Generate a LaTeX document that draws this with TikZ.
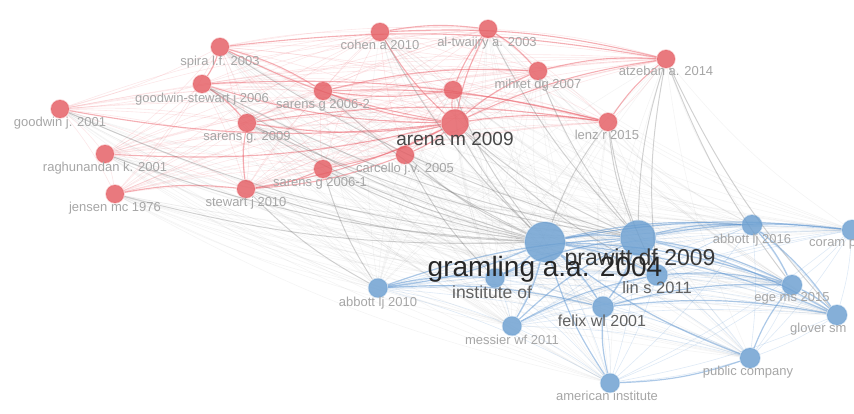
\documentclass[tikz,border=0pt]{standalone}
\usepackage{fontspec}
\setmainfont{Liberation Sans}
\pgfdeclarelayer{edges}
\pgfsetlayers{edges,main}
\definecolor{nRed}{RGB}{228,92,98}
\definecolor{nBlue}{RGB}{106,158,208}
\definecolor{eRed}{RGB}{234,96,106}
\definecolor{eBlue}{RGB}{92,148,208}
\definecolor{eGray}{RGB}{115,115,115}
\definecolor{labG}{RGB}{166,166,166}
\tikzset{
  rn/.style={circle, inner sep=0pt, minimum size=#1, fill=nRed, fill opacity=0.82, draw=nRed, draw opacity=0.3, line width=1.5pt},
  bn/.style={circle, inner sep=0pt, minimum size=#1, fill=nBlue, fill opacity=0.82, draw=nBlue, draw opacity=0.3, line width=1.5pt},
  lab/.style 2 args={font=\fontsize{#1}{#1}\selectfont, text=#2, inner sep=0pt, text height={0.72*#1}, text depth={0.2*#1}},
  sl/.style={lab={13}{labG}},
  redL/.style={draw=eRed, opacity=0.15, line width=0.6pt},
  redS/.style={draw=eRed, opacity=0.5, line width=1.1pt},
  grayL/.style={draw=eGray, opacity=0.08, line width=0.6pt},
  grayS/.style={draw=eGray, opacity=0.28, line width=1pt},
  blueL/.style={draw=eBlue, opacity=0.2, line width=0.6pt},
  blueS/.style={draw=eBlue, opacity=0.5, line width=1.2pt},
}
\begin{document}
\begin{tikzpicture}[x=1pt, y=-1pt]
\useasboundingbox (0,0) rectangle (854,414);
\clip (0,0) rectangle (854,414);
% ---------- red cluster ----------
\node[rn=18pt] (sp)  at (220,47)  {};
\node[rn=18pt] (gs)  at (202,84)  {};
\node[rn=18pt] (gw)  at (60,109)  {};
\node[rn=18pt] (sg9) at (247,123) {};
\node[rn=18pt] (rk)  at (105,154) {};
\node[rn=18pt] (jm)  at (115,194) {};
\node[rn=18pt] (sw)  at (246,189) {};
\node[rn=18pt] (s61) at (323,169) {};
\node[rn=18pt] (cj)  at (405,155) {};
\node[rn=18pt] (s62) at (323,91)  {};
\node[rn=18pt] (ca)  at (380,32)  {};
\node[rn=18pt] (at)  at (488,29)  {};
\node[rn=18pt] (md)  at (538,71)  {};
\node[rn=18pt] (ux)  at (453,90)  {};
\node[rn=27pt] (ar)  at (455,123) {};
\node[rn=18pt] (az)  at (666,59)  {};
\node[rn=18pt] (lz)  at (608,122) {};
% ---------- blue cluster ----------
\node[bn=40pt] (gr)   at (545,242) {};
\node[bn=35pt] (pr)   at (638,238) {};
\node[bn=19pt] (io)   at (495,278) {};
\node[bn=19pt] (ab10) at (378,288) {};
\node[bn=19pt] (mw)   at (512,326) {};
\node[bn=21pt] (fw)   at (603,307) {};
\node[bn=21pt] (ls)   at (657,275) {};
\node[bn=20pt] (ab16) at (752,225) {};
\node[bn=20pt] (cp)   at (852,230) {};
\node[bn=20pt] (em)   at (792,285) {};
\node[bn=20pt] (gl)   at (837,315) {};
\node[bn=20pt] (pc)   at (750,358) {};
\node[bn=19pt] (ai)   at (610,383) {};
% ---------- edges ----------
\begin{pgfonlayer}{edges}
\clip (0,0) rectangle (854,414);
\foreach \a [count=\i] in {sp,gs,gw,sg9,rk,jm,sw,s61,cj,s62,ca,at,md,ux,ar,az,lz}{
  \foreach \b [count=\j] in {sp,gs,gw,sg9,rk,jm,sw,s61,cj,s62,ca,at,md,ux,ar,az,lz}{
    \ifnum\j>\i \draw[redL] (\a) to[bend left=6] (\b); \fi
  }
}
\foreach \a in {sp,gs,gw,sg9,rk,jm,sw,s61,cj,s62,ca,at,md,ux,ar,az,lz}{
  \foreach \b in {gr,pr,io,ab10,mw,fw,ls,ab16,cp,em,gl,pc,ai}{
    \draw[grayL] (\a) to[bend right=8] (\b);
  }
}
\foreach \a [count=\i] in {gr,pr,io,ab10,mw,fw,ls,ab16,cp,em,gl,pc,ai}{
  \foreach \b [count=\j] in {gr,pr,io,ab10,mw,fw,ls,ab16,cp,em,gl,pc,ai}{
    \ifnum\j>\i \draw[blueL] (\a) to[bend left=6] (\b); \fi
  }
}
\foreach \a/\b in {ar/ca,ar/at,ar/md,ar/lz,ar/ux,ar/sg9,ar/gs,ar/s62,ar/sw,ar/cj,ar/sp,ar/az,ar/gw,ar/rk,ar/s61,
  sp/az,gs/lz,s62/md,ca/at,ca/az,at/md,md/az,sg9/lz,ux/at,ux/s62,cj/sw,s61/sw,sw/sg9,gs/sg9,sp/gs,jm/sw,lz/az,s62/lz,sp/s62}{
  \draw[redS] (\a) to[bend left=8] (\b);
}
\foreach \a/\b in {ar/gr,ar/pr,sg9/gr,gs/gr,sw/gr,cj/gr,s61/gr,lz/gr,lz/pr,az/pr,az/em,az/ls,rk/gr,jm/gr,gw/gr,sp/pr,
  ca/gr,s62/gr,ux/gr,md/pr,ar/ls,sg9/pr,gs/pr,cj/io,s61/ab10,sw/ab10,lz/ls,az/gl,at/pr}{
  \draw[grayS] (\a) to[bend right=8] (\b);
}
\foreach \a/\b in {gr/pr,gr/ab10,gr/io,gr/mw,gr/fw,gr/ls,gr/ab16,gr/cp,gr/em,gr/gl,pr/ab16,pr/cp,pr/em,pr/ls,pr/fw,pr/gl,
  ab10/io,ab10/fw,mw/pr,fw/em,fw/gl,ls/em,ab16/em,ab16/gl,pc/em,pc/ai,pc/gr,ai/gr,ai/fw,em/gl,io/pr,mw/ls,ab10/pr}{
  \draw[blueS] (\a) to[bend left=8] (\b);
}
\end{pgfonlayer}
% ---------- labels ----------
\node[sl] (sp-l)  at (220,62)  {spira l.f. 2003};
\node[sl] (gs-l)  at (202,99)  {goodwin-stewart j 2006};
\node[sl] (gw-l)  at (60,123)  {goodwin j. 2001};
\node[sl] (sg9-l) at (247,137) {sarens g. 2009};
\node[sl] (rk-l)  at (105,168) {raghunandan k. 2001};
\node[sl] (jm-l)  at (115,208) {jensen mc 1976};
\node[sl] (sw-l)  at (246,203) {stewart j 2010};
\node[sl] (s61-l) at (320,183) {sarens g 2006-1};
\node[sl] (cj-l)  at (405,169) {carcello j.v. 2005};
\node[sl] (s62-l) at (323,105) {sarens g 2006-2};
\node[sl] (ca-l)  at (380,46)  {cohen a 2010};
\node[sl] (at-l)  at (487,43)  {al-twaijry a. 2003};
\node[sl] (md-l)  at (538,85)  {mihret dg 2007};
\node[sl] (az-l)  at (666,72)  {atzeban a. 2014};
\node[sl] (lz-l)  at (607,136) {lenz r 2015};
\node[lab={19}{black!72}] (ar-l) at (455,141) {arena m 2009};
\node[lab={23}{black!78}] (pr-l) at (640,260) {prawitt df 2009};
\node[lab={28}{black!85}] (gr-l) at (545,269) {gramling a.a. 2004};
\node[lab={17.5}{black!62}] (io-l) at (492,294) {institute of};
\node[lab={16.5}{black!62}] (ls-l) at (657,289) {lin s 2011};
\node[lab={16}{black!62}] (fw-l) at (602,322) {felix wl 2001};
\node[sl] (ab10-l) at (378,303) {abbott lj 2010};
\node[sl] (mw-l)   at (512,341) {messier wf 2011};
\node[sl] (ab16-l) at (752,240) {abbott lj 2016};
\node[sl, anchor=west] (cp-l) at (809,243) {coram p};
\node[sl] (em-l)   at (792,298) {ege ms 2015};
\node[sl, anchor=west] (gl-l) at (790,329) {glover sm};
\node[sl] (pc-l)   at (748,372) {public company};
\node[sl] (ai-l)   at (607,397) {american institute};
\end{tikzpicture}
\end{document}
